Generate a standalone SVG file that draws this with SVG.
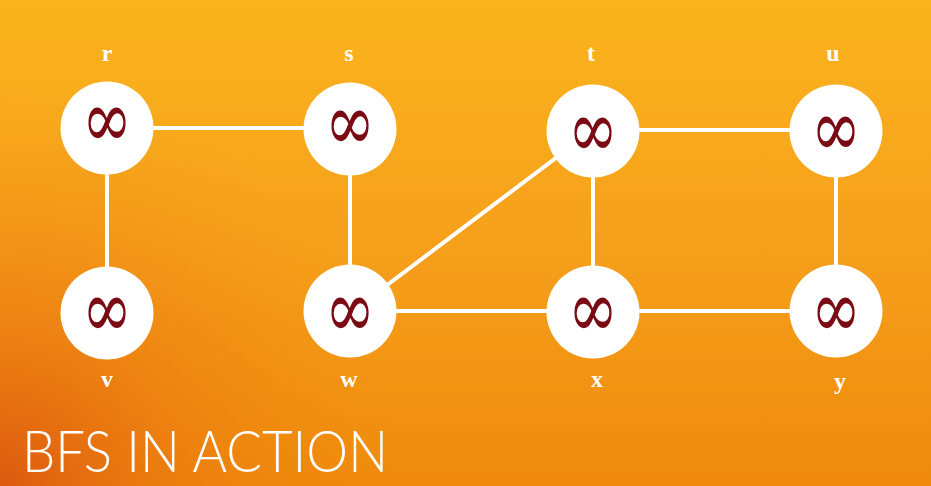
<svg xmlns="http://www.w3.org/2000/svg" width="931" height="486" viewBox="0 0 931 486">
<defs>
<linearGradient id="bg" x1="0" y1="0" x2="0" y2="1">
<stop offset="0" stop-color="#fab41c"/>
<stop offset="0.5" stop-color="#f6a01c"/>
<stop offset="1" stop-color="#ef8a0c"/>
</linearGradient>
<radialGradient id="bl" cx="0" cy="486" r="400" gradientUnits="userSpaceOnUse">
<stop offset="0" stop-color="#dc5a10" stop-opacity="1"/>
<stop offset="0.45" stop-color="#e87010" stop-opacity="0.45"/>
<stop offset="1" stop-color="#ef8a0c" stop-opacity="0"/>
</radialGradient>
</defs>
<style>
.edge{stroke:#ffffff;stroke-width:4;fill:none}
.node circle{fill:#ffffff}
.inf{font-family:"DejaVu Serif",serif;font-size:60px;fill:#7a0a14;text-anchor:middle}
.lbl{font-family:"Liberation Serif","DejaVu Serif",serif;font-size:24px;font-weight:bold;fill:#ffffff;text-anchor:middle}
.title{font-family:Lato,"Open Sans",sans-serif;font-weight:300;font-size:57px;fill:#ffffff}
</style>
<rect width="931" height="486" fill="url(#bg)"/>
<rect width="931" height="486" fill="url(#bl)"/>
<g id="connectors">
<line class="edge" x1="107" y1="128" x2="350" y2="128"/>
<line class="edge" x1="107" y1="128" x2="107" y2="313"/>
<line class="edge" x1="350" y1="128" x2="350" y2="313"/>
<line class="edge" x1="350" y1="313" x2="593" y2="130"/>
<line class="edge" x1="593" y1="130" x2="836" y2="130"/>
<line class="edge" x1="593" y1="130" x2="593" y2="313"/>
<line class="edge" x1="350" y1="311" x2="593" y2="311"/>
<line class="edge" x1="593" y1="311" x2="836" y2="311"/>
<line class="edge" x1="836" y1="130" x2="836" y2="311"/>
</g>
<g id="node-r" class="node"><circle cx="107" cy="128" r="46.5"/><text class="inf" transform="translate(107 147) scale(1 1.35)">∞</text><text class="lbl" x="107" y="61">r</text></g>
<g id="node-s" class="node"><circle cx="350" cy="129" r="46.5"/><text class="inf" transform="translate(350 150) scale(1 1.35)">∞</text><text class="lbl" x="349" y="61">s</text></g>
<g id="node-t" class="node"><circle cx="593" cy="131" r="46.5"/><text class="inf" transform="translate(593 157) scale(1 1.35)">∞</text><text class="lbl" x="591" y="61">t</text></g>
<g id="node-u" class="node"><circle cx="836" cy="131" r="46.5"/><text class="inf" transform="translate(836 156) scale(1 1.35)">∞</text><text class="lbl" x="833" y="61">u</text></g>
<g id="node-v" class="node"><circle cx="107" cy="313" r="46.5"/><text class="inf" transform="translate(107 337) scale(1 1.35)">∞</text><text class="lbl" x="107" y="387">v</text></g>
<g id="node-w" class="node"><circle cx="350" cy="311" r="46.5"/><text class="inf" transform="translate(350 337) scale(1 1.35)">∞</text><text class="lbl" x="349" y="387">w</text></g>
<g id="node-x" class="node"><circle cx="593" cy="312" r="46.5"/><text class="inf" transform="translate(593 337) scale(1 1.35)">∞</text><text class="lbl" x="597" y="387">x</text></g>
<g id="node-y" class="node"><circle cx="836" cy="311" r="46.5"/><text class="inf" transform="translate(836 337) scale(1 1.35)">∞</text><text class="lbl" x="840" y="389">y</text></g>
<text class="title" x="22" y="472" textLength="366" lengthAdjust="spacingAndGlyphs">BFS IN ACTION</text>
</svg>
